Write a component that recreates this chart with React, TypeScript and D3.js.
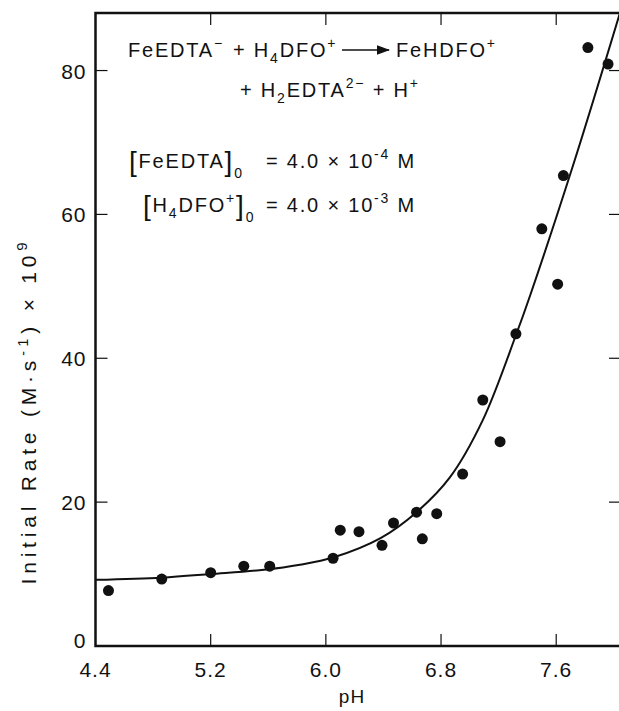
import React from 'react'
import * as d3 from 'd3'

// measured points
const phValues = [4.49, 4.86, 5.2, 5.43, 5.61, 6.05, 6.1, 6.23, 6.39, 6.47, 6.63, 6.67, 6.77, 6.95, 7.09, 7.21, 7.32, 7.5, 7.61, 7.65, 7.82, 7.96]
const rateValues = [7.7, 9.3, 10.2, 11.1, 11.1, 12.2, 16.1, 15.9, 14.0, 17.1, 18.6, 14.9, 18.4, 23.9, 34.2, 28.4, 43.4, 58.0, 50.3, 65.4, 83.2, 80.9]

// fitted curve
const fitPh = [4.4, 4.86, 5.2, 5.57, 5.82, 6.05, 6.38, 6.63, 6.86, 7.09, 7.32, 7.42, 7.72, 8.05]
const fitRate = [9.2, 9.5, 10.0, 10.6, 11.3, 12.3, 15.0, 18.6, 23.4, 31.4, 43.2, 48.8, 67.0, 88.5]

const xTicks = [4.4, 5.2, 6.0, 6.8, 7.6]
const yTicks = [0, 20, 40, 60, 80]

function App() {
  const width = 619
  const height = 711
  const font = '"Liberation Sans", Arial, sans-serif'

  const x = d3.scaleLinear().domain([4.4, 8.05]).range([95.5, 621])
  const y = d3.scaleLinear().domain([0, 88]).range([646, 13])
  const [x0, x1] = x.range()
  const [y0, y1] = y.range()

  const points = phValues.map((p, i) => ({ ph: p, rate: rateValues[i] }))
  const fit = fitPh.map((p, i) => ({ ph: p, rate: fitRate[i] }))

  const line = d3.line<{ ph: number; rate: number }>()
    .x(d => x(d.ph))
    .y(d => y(d.rate))
    .curve(d3.curveCatmullRom.alpha(0.5))

  const tickLen = 12
  const sub = { fontSize: 14 }
  const big = 28

  return (
    <svg width={width} height={height} style={{ position: 'absolute', left: 0, top: 0, background: '#fff' }}
      fontFamily={font} fill="#111">
      <defs>
        <clipPath id="plot">
          <rect x={x0} y={y1} width={x1 - x0} height={y0 - y1} />
        </clipPath>
        <marker id="arrow" viewBox="0 0 10 10" refX="9" refY="5" markerWidth="9" markerHeight="9" orient="auto">
          <path d="M0,1.5 L10,5 L0,8.5 z" fill="#111" />
        </marker>
      </defs>

      {/* frame */}
      <path d={`M${x1},${y1} L${x0},${y1} L${x0},${y0} L${x1},${y0}`} fill="none" stroke="#111" strokeWidth={2.5} />
      <line x1={x1} x2={x1} y1={y1} y2={y0} stroke="#111" strokeWidth={2.5} />

      {/* x ticks, bottom and top, inward */}
      {xTicks.slice(1).map(t => (
        <g key={`xt${t}`} stroke="#111" strokeWidth={1.2}>
          <line x1={x(t)} x2={x(t)} y1={y0} y2={y0 - tickLen} />
          <line x1={x(t)} x2={x(t)} y1={y1} y2={y1 + tickLen} />
        </g>
      ))}
      {xTicks.map(t => (
        <text key={`xl${t}`} x={x(t)} y={y0 + 31} textAnchor="middle" fontSize={21} letterSpacing={1}>{t.toFixed(1)}</text>
      ))}

      {/* y ticks, left and right, inward */}
      {yTicks.slice(1).map(t => (
        <g key={`yt${t}`} stroke="#111" strokeWidth={1.2}>
          <line x1={x0} x2={x0 + tickLen} y1={y(t)} y2={y(t)} />
          <line x1={x1} x2={x1 - tickLen} y1={y(t)} y2={y(t)} />
        </g>
      ))}
      {yTicks.map(t => (
        <text key={`yl${t}`} x={x0 - 9} y={y(t) + (t === 0 ? 2 : 8)} textAnchor="end" fontSize={21} letterSpacing={1}>{t}</text>
      ))}

      {/* axis titles */}
      <text x={352} y={703} textAnchor="middle" fontSize={19} letterSpacing={1}>pH</text>
      <text transform={`translate(36, 411) rotate(-90)`} textAnchor="middle" fontSize={21} letterSpacing={4.8}>
        Initial Rate  (M·s<tspan dy={-8} fontSize={14}>-1</tspan><tspan dy={8}>)  × 10</tspan>
        <tspan dy={-9} fontSize={15}>9</tspan>
      </text>

      {/* fit curve and data */}
      <path d={line(fit) ?? ''} fill="none" stroke="#111" strokeWidth={2} clipPath="url(#plot)" />
      {points.map((d, i) => (
        <circle key={i} cx={x(d.ph)} cy={y(d.rate)} r={5.5} fill="#111" />
      ))}

      {/* reaction annotation */}
      <g fontSize={20} letterSpacing={1.8}>
        <text x={128} y={57}>
          FeEDTA<tspan dy={-9} {...sub}>−</tspan>
        </text>
        <text x={233} y={57}>
          + H<tspan dy={6} {...sub}>4</tspan>
          <tspan dy={-6}>DFO</tspan><tspan dy={-9} {...sub}>+</tspan>
        </text>
        <line x1={342} x2={389} y1={50} y2={50} stroke="#111" strokeWidth={1.5} markerEnd="url(#arrow)" />
        <text x={396} y={57}>
          FeHDFO<tspan dy={-9} {...sub}>+</tspan>
        </text>
        <text x={240} y={97}>
          + H<tspan dy={6} {...sub}>2</tspan><tspan dy={-6}>EDTA</tspan>
          <tspan dy={-9} {...sub}>2−</tspan><tspan dy={9}>  + H</tspan>
          <tspan dy={-9} {...sub}>+</tspan>
        </text>
        <text x={129} y={168}>
          <tspan fontSize={big} dy={3}>[</tspan><tspan dy={-3}>FeEDTA</tspan>
          <tspan fontSize={big} dy={3}>]</tspan><tspan dy={7} {...sub}>0</tspan>
        </text>
        <text x={266} y={168}>
          = 4.0 × 10<tspan dy={-9} {...sub}>-4</tspan>
          <tspan dy={9}> M</tspan>
        </text>
        <text x={143} y={212}>
          <tspan fontSize={big} dy={3}>[</tspan><tspan dy={-3}>H</tspan>
          <tspan dy={6} {...sub}>4</tspan><tspan dy={-6}>DFO</tspan>
          <tspan dy={-9} {...sub}>+</tspan><tspan fontSize={big} dy={12}>]</tspan>
          <tspan dy={7} {...sub}>0</tspan>
        </text>
        <text x={266} y={212}>
          = 4.0 × 10<tspan dy={-9} {...sub}>-3</tspan>
          <tspan dy={9}> M</tspan>
        </text>
      </g>
    </svg>
  )
}

export default App
